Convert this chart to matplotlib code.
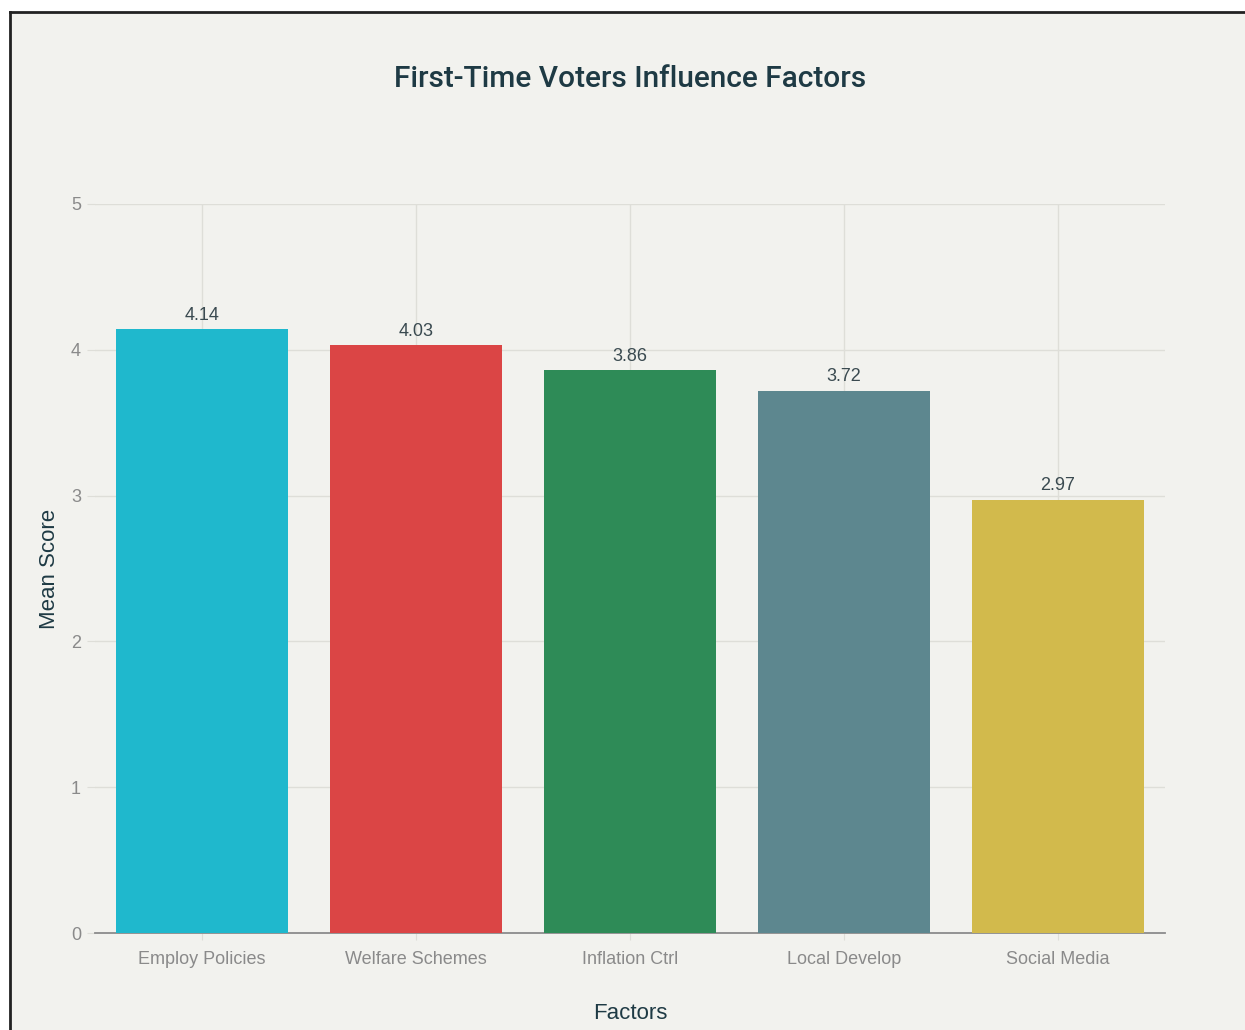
import matplotlib.pyplot as plt
from matplotlib.patches import Rectangle
from matplotlib.lines import Line2D

plt.rcParams['font.family'] = ['Liberation Sans', 'DejaVu Sans']

# Survey results: mean importance score per factor
factors = ["Employ Policies", "Welfare Schemes", "Inflation Ctrl", "Local Develop", "Social Media"]
mean_scores = [4.14, 4.03, 3.86, 3.72, 2.97]
bar_colors = ["#1FB8CD", "#DB4545", "#2E8B57", "#5D878F", "#D2BA4C"]

BG = "#F2F2EE"
TEXT_DARK = "#1E3A44"

fig = plt.figure(figsize=(12.45, 10.30), dpi=100)
fig.patch.set_facecolor("white")

# framed panel: white margin top/left with a dark rule
W, H = 1245, 1030
fig.add_artist(Rectangle((9 / W, 0), 1 - 9 / W, 1 - 12 / H, transform=fig.transFigure,
                         facecolor=BG, edgecolor="none", zorder=-10))
fig.add_artist(Line2D([9.5 / W, 1], [1 - 11.5 / H, 1 - 11.5 / H], transform=fig.transFigure,
                      color="#222222", lw=2))
fig.add_artist(Line2D([9.5 / W, 9.5 / W], [0, 1 - 11.5 / H], transform=fig.transFigure,
                      color="#222222", lw=2))

ax = fig.add_axes([95 / W, 97 / H, 1070 / W, 729 / H])
ax.set_facecolor(BG)

x = range(len(factors))
bars = ax.bar(x, mean_scores, width=0.8, color=bar_colors, zorder=3)

for rect, val in zip(bars, mean_scores):
    ax.annotate(f"{val:.2f}", (rect.get_x() + rect.get_width() / 2, val),
                xytext=(0, 4), textcoords="offset points", ha="center", va="bottom",
                fontsize=13, color="#3A4A50", zorder=4)

ax.set_xlim(-0.5, len(factors) - 0.5)
ax.set_ylim(0, 5)
ax.set_xticks(list(x))
ax.set_xticklabels(factors)
ax.set_yticks([0, 1, 2, 3, 4, 5])

ax.grid(True, color="#DEDED8", lw=1, zorder=0)
for side in ["top", "right", "left"]:
    ax.spines[side].set_visible(False)
ax.spines["bottom"].set_color("#8C8C8C")
ax.spines["bottom"].set_linewidth(1.3)

ax.tick_params(axis="y", length=6, color="#DEDED8", labelcolor="#8A8A8A", labelsize=13, pad=4)
ax.tick_params(axis="x", length=5, color="#DEDED8", labelcolor="#8A8A8A", labelsize=13, pad=8)

ax.set_ylabel("Mean Score", fontsize=16, color=TEXT_DARK, labelpad=8)
ax.set_xlabel("Factors", fontsize=16, color=TEXT_DARK, labelpad=25)

fig.text(630 / W, 1 - 79 / H, "First-Time Voters Influence Factors", ha="center", va="center",
         fontsize=21.5, fontweight="medium", color=TEXT_DARK, family=["Roboto", "Liberation Sans"])

fig.savefig("out.png", dpi=100, facecolor=fig.get_facecolor())
